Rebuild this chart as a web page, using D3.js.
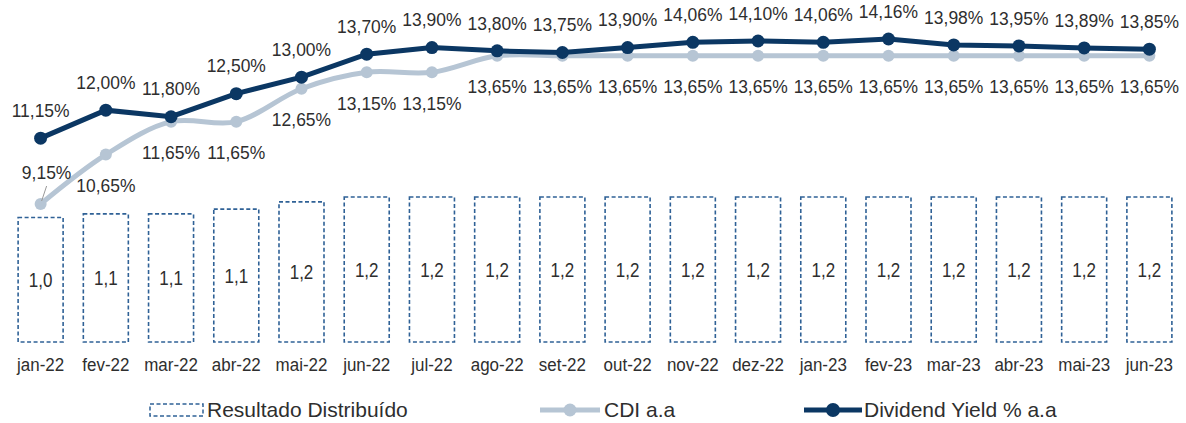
<!DOCTYPE html>
<html>
<head>
<meta charset="utf-8">
<script src="https://cdn.jsdelivr.net/npm/d3@7"></script>
<style>
  body { margin: 0; background: #fff; }
  text { font-family: "Liberation Sans", Arial, sans-serif; fill: #2e2e2e; }
</style>
</head>
<body>
<div id="chart"></div>
<script>
// Data
const months = ['jan-22','fev-22','mar-22','abr-22','mai-22','jun-22','jul-22','ago-22','set-22',
                'out-22','nov-22','dez-22','jan-23','fev-23','mar-23','abr-23','mai-23','jun-23'];
const resultado = [1.03, 1.06, 1.06, 1.10, 1.16, 1.2, 1.2, 1.2, 1.2, 1.2, 1.2, 1.2, 1.2, 1.2, 1.2, 1.2, 1.2, 1.2];
const cdi = [9.15, 10.65, 11.65, 11.65, 12.65, 13.15, 13.15, 13.65, 13.65, 13.65, 13.65, 13.65, 13.65, 13.65, 13.65, 13.65, 13.65, 13.65];
const dy = [11.15, 12.00, 11.80, 12.50, 13.00, 13.70, 13.90, 13.80, 13.75, 13.90, 14.06, 14.10, 14.06, 14.16, 13.98, 13.95, 13.89, 13.85];

const width = 1186, height = 423;
const navy = '#0b3763', grey = '#b6c5d4', barStroke = '#2f6196';

const svg = d3.select('#chart').append('svg')
    .attr('width', width)
    .attr('height', height);

// Scales
const x = d3.scaleBand().domain(months).range([8, 1182]).paddingInner(0.31).paddingOuter(0.155);
const yBar = d3.scaleLinear().domain([0, 1.2]).range([342, 197]);
const yLine = d3.scaleLinear().domain([9.15, 14.16]).range([204, 39]);
const cx = d => x(d) + x.bandwidth() / 2;
const fmtPct = v => v.toFixed(2).replace('.', ',') + '%';

// text is a bit narrower than Arial in the original, squeeze horizontally
function label(g, data, fx, fy, txt, size, sx) {
    return g.selectAll(null)
        .data(data)
        .enter().append('text')
        .attr('transform', (d, i) => `translate(${fx(d, i)},${fy(d, i)}) scale(${sx},1)`)
        .attr('dy', '0.35em')
        .attr('text-anchor', 'middle')
        .style('font-size', size + 'px')
        .text(txt);
}

// Bars
const bars = svg.append('g');
bars.selectAll('rect')
    .data(resultado)
    .enter().append('rect')
    .attr('x', (d, i) => x(months[i]))
    .attr('y', d => yBar(d))
    .attr('width', x.bandwidth())
    .attr('height', d => yBar(0) - yBar(d))
    .attr('fill', 'none')
    .attr('stroke', barStroke)
    .attr('stroke-width', 1.6)
    .attr('stroke-dasharray', '4,2.5');

label(bars, resultado, (d, i) => cx(months[i]), d => (yBar(d) + yBar(0)) / 2,
    d => d.toFixed(1).replace('.', ','), 20, 0.85);

// X axis labels
label(svg.append('g'), months, d => cx(d), () => 365, d => d, 17.5, 0.97);

// Lines
const cdiLine = d3.line()
    .x((d, i) => cx(months[i]))
    .y(d => yLine(d))
    .curve(d3.curveCatmullRom.alpha(0.5));

const dyLine = d3.line()
    .x((d, i) => cx(months[i]))
    .y(d => yLine(d));

svg.append('path')
    .datum(cdi)
    .attr('d', cdiLine)
    .attr('fill', 'none')
    .attr('stroke', grey)
    .attr('stroke-width', 5);

svg.append('g').selectAll('circle')
    .data(cdi)
    .enter().append('circle')
    .attr('cx', (d, i) => cx(months[i]))
    .attr('cy', d => yLine(d))
    .attr('r', 6)
    .attr('fill', grey);

svg.append('path')
    .datum(dy)
    .attr('d', dyLine)
    .attr('fill', 'none')
    .attr('stroke', navy)
    .attr('stroke-width', 5);

svg.append('g').selectAll('circle')
    .data(dy)
    .enter().append('circle')
    .attr('cx', (d, i) => cx(months[i]))
    .attr('cy', d => yLine(d))
    .attr('r', 6.5)
    .attr('fill', navy);

// Labels DY (above)
label(svg.append('g'), dy, (d, i) => cx(months[i]), d => yLine(d) - 28, fmtPct, 19, 0.92);

// Labels CDI (below, first one above with leader)
label(svg.append('g'), cdi, (d, i) => cx(months[i]) + (i === 0 ? 6 : 0),
    (d, i) => i === 0 ? yLine(d) - 32 : yLine(d) + 31, fmtPct, 19, 0.92);

svg.append('line')
    .attr('x1', cx(months[0]) + 1).attr('y1', yLine(cdi[0]) - 3)
    .attr('x2', cx(months[0]) + 6).attr('y2', yLine(cdi[0]) - 18)
    .attr('stroke', '#999')
    .attr('stroke-width', 1);

// Legend
const legend = svg.append('g');
const ly = 410;
legend.append('rect')
    .attr('x', 150).attr('y', ly - 6).attr('width', 53).attr('height', 12)
    .attr('fill', 'none').attr('stroke', barStroke)
    .attr('stroke-width', 1.5).attr('stroke-dasharray', '4,2.5');
legend.append('text').attr('x', 207).attr('y', ly).attr('dy', '0.35em')
    .style('font-size', '21px').text('Resultado Distribuído');

legend.append('line').attr('x1', 540).attr('x2', 600).attr('y1', ly).attr('y2', ly)
    .attr('stroke', grey).attr('stroke-width', 5);
legend.append('circle').attr('cx', 570).attr('cy', ly).attr('r', 6.5).attr('fill', grey);
legend.append('text').attr('x', 604).attr('y', ly).attr('dy', '0.35em')
    .style('font-size', '21px').text('CDI a.a');

legend.append('line').attr('x1', 804).attr('x2', 862).attr('y1', ly).attr('y2', ly)
    .attr('stroke', navy).attr('stroke-width', 5);
legend.append('circle').attr('cx', 833).attr('cy', ly).attr('r', 7).attr('fill', navy);
legend.append('text').attr('x', 864).attr('y', ly).attr('dy', '0.35em')
    .style('font-size', '21px').text('Dividend Yield % a.a');
</script>
</body>
</html>
